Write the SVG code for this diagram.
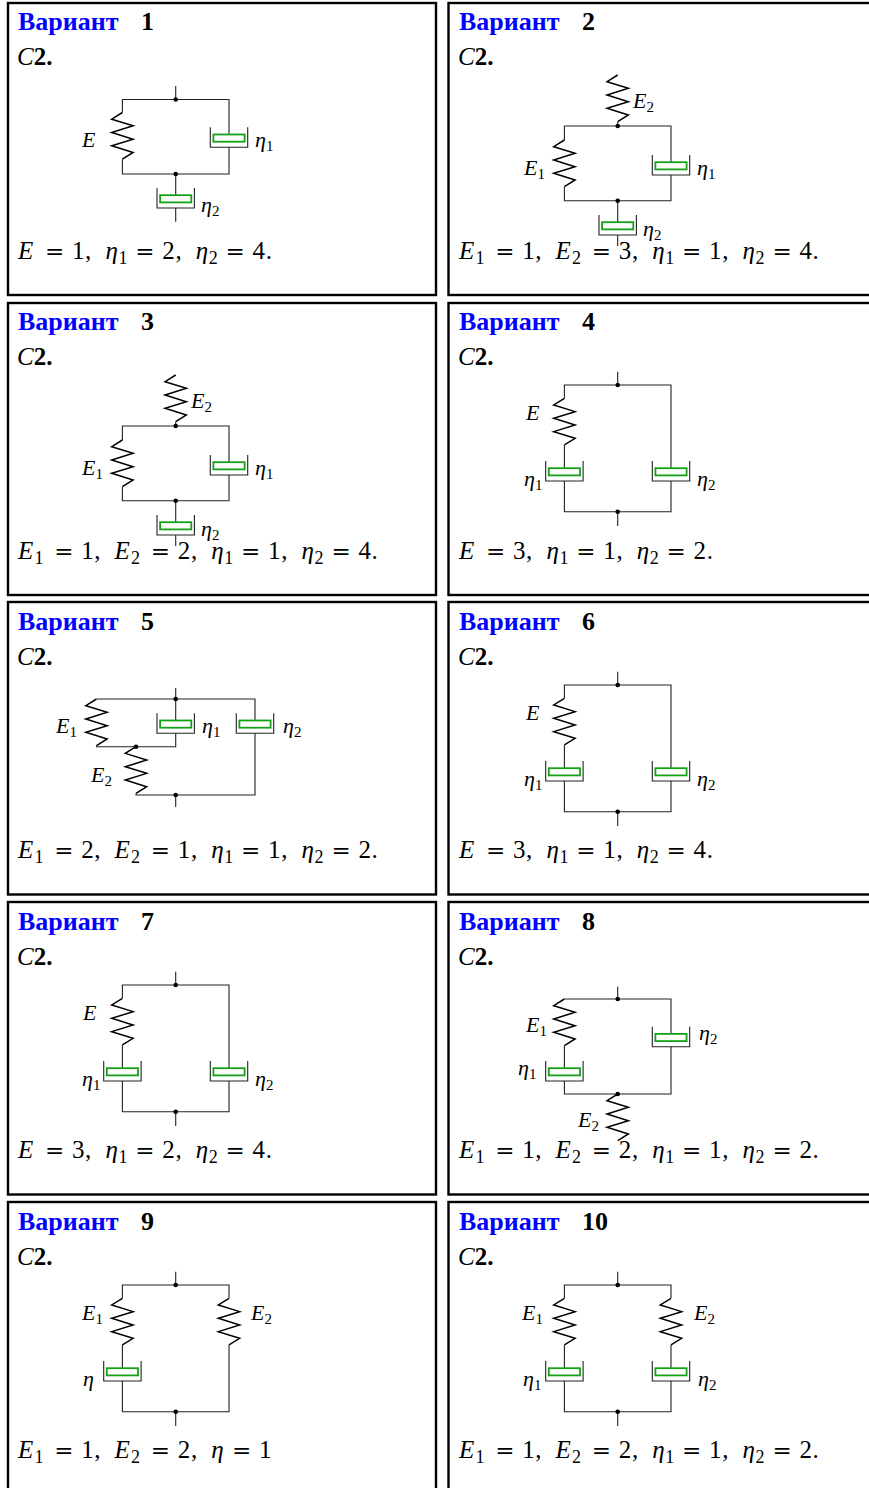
<svg xmlns="http://www.w3.org/2000/svg" width="869" height="1488" viewBox="0 0 869 1488">
<style>
.frame{fill:none;stroke:#000;stroke-width:2.4}
.t{font-family:"Liberation Serif",serif;font-weight:bold;font-size:26px;fill:#000}
.b{fill:#0000ff}
.c{font-family:"Liberation Serif",serif;font-weight:bold;font-size:25px}
.ci{font-style:italic;font-weight:normal}
.f{font-family:"Liberation Serif",serif;font-size:25px}
.i{font-style:italic}
.s{font-size:18px}
.eq{font-family:"DejaVu Serif",serif;font-size:23px}
.l{font-family:"Liberation Serif",serif;font-size:22px;font-style:italic}
.ls{font-size:15px;font-style:normal}
.w{fill:none;stroke:#222;stroke-width:1.1}
.spr{fill:none;stroke:#000;stroke-width:1.5}
.cup{fill:none;stroke:#222;stroke-width:1.1}
.pist{fill:#fff;stroke:#16a016;stroke-width:1.8}
.dot{fill:#000}
</style>
<defs>
<path id="spring" class="spr" d="M0,0 L-10.7,6.67 L10.7,13.33 L-10.7,20 L10.7,26.67 L-10.7,33.33 L10.7,40 L0,46.67"/>
<g id="dp"><path class="cup" d="M-18.7,0 V20 H18.7 V0"/><rect class="pist" x="-15.6" y="7.2" width="31.2" height="7.2"/></g>
</defs>
<rect width="869" height="1488" fill="#fff"/>

<!-- Variant 1 -->
<g id="variant-1">
<rect class="frame" x="8" y="3" width="428" height="292"/>
<text class="t" x="18" y="30"><tspan class="b">Вариант</tspan><tspan x="141">1</tspan></text>
<text class="c" x="17" y="65"><tspan class="ci">C</tspan>2.</text>
<g id="v1-connectors">
<path class="w" d="M175.7,86 V99.5 M122.4,112.5 V99.5 H229 V134.5 M122.4,159.2 V174 H229 V147.3 M175.7,174 V195.2 M175.7,208 V221.7"/>
<circle class="dot" cx="175.7" cy="99.5" r="2.3"/><circle class="dot" cx="175.7" cy="174" r="2.3"/>
</g>
<g id="v1-E"><use href="#spring" x="122.4" y="112.5"/><text class="l" x="82" y="147">E</text></g>
<g id="v1-eta1"><use href="#dp" x="229" y="127.3"/><text class="l" x="255" y="147">η<tspan class="ls" dy="4">1</tspan></text></g>
<g id="v1-eta2"><use href="#dp" x="175.7" y="188"/><text class="l" x="201" y="212">η<tspan class="ls" dy="4">2</tspan></text></g>
<text class="f" y="259"><tspan class="i" x="18">E</tspan><tspan class="eq" x="45.1">=</tspan><tspan x="72.1">1</tspan><tspan x="85.1">,</tspan><tspan class="i" x="105.4">η</tspan><tspan class="s" x="118.4" y="264">1</tspan><tspan class="eq" x="135.3" y="259">=</tspan><tspan x="162.3">2</tspan><tspan x="175.4">,</tspan><tspan class="i" x="195.7">η</tspan><tspan class="s" x="208.7" y="264">2</tspan><tspan class="eq" x="225.6" y="259">=</tspan><tspan x="252.6">4</tspan><tspan x="265.7">.</tspan></text>
</g>

<!-- Variant 2 -->
<g id="variant-2">
<rect class="frame" x="448.5" y="3" width="440" height="292"/>
<text class="t" x="459" y="30"><tspan class="b">Вариант</tspan><tspan x="582">2</tspan></text>
<text class="c" x="458" y="65"><tspan class="ci">C</tspan>2.</text>
<g id="v2-connectors">
<path class="w" d="M617.7,121.7 V126 M564.4,140 V126 H671 V162.2 M564.4,186.7 V200.7 H671 V175 M617.7,200.7 V222.2 M617.7,235 V246"/>
<circle class="dot" cx="617.7" cy="126" r="2.3"/><circle class="dot" cx="617.7" cy="200.7" r="2.3"/>
</g>
<g id="v2-E2"><use href="#spring" x="617.7" y="75"/><text class="l" x="633" y="108">E<tspan class="ls" dy="4">2</tspan></text></g>
<g id="v2-E1"><use href="#spring" x="564.4" y="140"/><text class="l" x="524" y="175">E<tspan class="ls" dy="4">1</tspan></text></g>
<g id="v2-eta1"><use href="#dp" x="671" y="155"/><text class="l" x="697" y="175">η<tspan class="ls" dy="4">1</tspan></text></g>
<g id="v2-eta2"><use href="#dp" x="617.7" y="215"/><text class="l" x="643" y="236">η<tspan class="ls" dy="4">2</tspan></text></g>
<text class="f" y="259"><tspan class="i" x="459">E</tspan><tspan class="s" x="475.5" y="264">1</tspan><tspan class="eq" x="495.2" y="259">=</tspan><tspan x="522.2">1</tspan><tspan x="535.3">,</tspan><tspan class="i" x="555.6">E</tspan><tspan class="s" x="572.1" y="264">2</tspan><tspan class="eq" x="591.8" y="259">=</tspan><tspan x="618.8">3</tspan><tspan x="631.9">,</tspan><tspan class="i" x="652.2">η</tspan><tspan class="s" x="665.2" y="264">1</tspan><tspan class="eq" x="682.1" y="259">=</tspan><tspan x="709.1">1</tspan><tspan x="722.2">,</tspan><tspan class="i" x="742.5">η</tspan><tspan class="s" x="755.5" y="264">2</tspan><tspan class="eq" x="772.4" y="259">=</tspan><tspan x="799.4">4</tspan><tspan x="812.5">.</tspan></text>
</g>

<!-- Variant 3 -->
<g id="variant-3">
<rect class="frame" x="8" y="303" width="428" height="292"/>
<text class="t" x="18" y="330"><tspan class="b">Вариант</tspan><tspan x="141">3</tspan></text>
<text class="c" x="17" y="365"><tspan class="ci">C</tspan>2.</text>
<g id="v3-connectors">
<path class="w" d="M175.7,421.7 V426 M122.4,440 V426 H229 V462.2 M122.4,486.7 V500.7 H229 V475 M175.7,500.7 V522.2 M175.7,535 V546"/>
<circle class="dot" cx="175.7" cy="426" r="2.3"/><circle class="dot" cx="175.7" cy="500.7" r="2.3"/>
</g>
<g id="v3-E2"><use href="#spring" x="175.7" y="375"/><text class="l" x="191" y="408">E<tspan class="ls" dy="4">2</tspan></text></g>
<g id="v3-E1"><use href="#spring" x="122.4" y="440"/><text class="l" x="82" y="475">E<tspan class="ls" dy="4">1</tspan></text></g>
<g id="v3-eta1"><use href="#dp" x="229" y="455"/><text class="l" x="255" y="475">η<tspan class="ls" dy="4">1</tspan></text></g>
<g id="v3-eta2"><use href="#dp" x="175.7" y="515"/><text class="l" x="201" y="536">η<tspan class="ls" dy="4">2</tspan></text></g>
<text class="f" y="558.5"><tspan class="i" x="18">E</tspan><tspan class="s" x="34.5" y="563.5">1</tspan><tspan class="eq" x="54.2" y="558.5">=</tspan><tspan x="81.2">1</tspan><tspan x="94.3">,</tspan><tspan class="i" x="114.6">E</tspan><tspan class="s" x="131.1" y="563.5">2</tspan><tspan class="eq" x="150.8" y="558.5">=</tspan><tspan x="177.8">2</tspan><tspan x="190.9">,</tspan><tspan class="i" x="211.2">η</tspan><tspan class="s" x="224.2" y="563.5">1</tspan><tspan class="eq" x="241.1" y="558.5">=</tspan><tspan x="268.1">1</tspan><tspan x="281.2">,</tspan><tspan class="i" x="301.5">η</tspan><tspan class="s" x="314.5" y="563.5">2</tspan><tspan class="eq" x="331.4" y="558.5">=</tspan><tspan x="358.4">4</tspan><tspan x="371.5">.</tspan></text>
</g>

<!-- Variant 4 -->
<g id="variant-4">
<rect class="frame" x="448.5" y="303" width="440" height="292"/>
<text class="t" x="459" y="330"><tspan class="b">Вариант</tspan><tspan x="582">4</tspan></text>
<text class="c" x="458" y="365"><tspan class="ci">C</tspan>2.</text>
<g id="v4-connectors">
<path class="w" d="M617.7,371.7 V385 M564.4,398.3 V385 H671 V468.2 M564.4,445 V468.2 M564.4,481 V511.7 H671 V481 M617.7,511.7 V526"/>
<circle class="dot" cx="617.7" cy="385" r="2.3"/><circle class="dot" cx="617.7" cy="511.7" r="2.3"/>
</g>
<g id="v4-E"><use href="#spring" x="564.4" y="398.3"/><text class="l" x="526" y="420">E</text></g>
<g id="v4-eta1"><use href="#dp" x="564.4" y="461"/><text class="l" x="524" y="486">η<tspan class="ls" dy="4">1</tspan></text></g>
<g id="v4-eta2"><use href="#dp" x="671" y="461"/><text class="l" x="697" y="486">η<tspan class="ls" dy="4">2</tspan></text></g>
<text class="f" y="558.5"><tspan class="i" x="459">E</tspan><tspan class="eq" x="486.1">=</tspan><tspan x="513.1">3</tspan><tspan x="526.1">,</tspan><tspan class="i" x="546.4">η</tspan><tspan class="s" x="559.4" y="563.5">1</tspan><tspan class="eq" x="576.3" y="558.5">=</tspan><tspan x="603.3">1</tspan><tspan x="616.4">,</tspan><tspan class="i" x="636.7">η</tspan><tspan class="s" x="649.7" y="563.5">2</tspan><tspan class="eq" x="666.6" y="558.5">=</tspan><tspan x="693.6">2</tspan><tspan x="706.7">.</tspan></text>
</g>

<!-- Variant 5 -->
<g id="variant-5">
<rect class="frame" x="8" y="602" width="428" height="292.5"/>
<text class="t" x="18" y="630"><tspan class="b">Вариант</tspan><tspan x="141">5</tspan></text>
<text class="c" x="17" y="665"><tspan class="ci">C</tspan>2.</text>
<g id="v5-connectors">
<path class="w" d="M175.7,688 V699 M96.5,699 H255 V720.5 M175.7,699 V720.5 M96.5,745.7 V746.7 H175.7 V733.3 M136,793.4 V795 H255 V733.3 M175.7,795 V807"/>
<circle class="dot" cx="175.7" cy="699" r="2.3"/><circle class="dot" cx="136" cy="746.7" r="2.3"/><circle class="dot" cx="175.7" cy="795" r="2.3"/>
</g>
<g id="v5-E1"><use href="#spring" x="96.5" y="699"/><text class="l" x="56" y="733">E<tspan class="ls" dy="4">1</tspan></text></g>
<g id="v5-E2"><use href="#spring" x="136" y="746.7"/><text class="l" x="91" y="782">E<tspan class="ls" dy="4">2</tspan></text></g>
<g id="v5-eta1"><use href="#dp" x="175.7" y="713.3"/><text class="l" x="202" y="733">η<tspan class="ls" dy="4">1</tspan></text></g>
<g id="v5-eta2"><use href="#dp" x="255" y="713.3"/><text class="l" x="283" y="733">η<tspan class="ls" dy="4">2</tspan></text></g>
<text class="f" y="858"><tspan class="i" x="18">E</tspan><tspan class="s" x="34.5" y="863">1</tspan><tspan class="eq" x="54.2" y="858">=</tspan><tspan x="81.2">2</tspan><tspan x="94.3">,</tspan><tspan class="i" x="114.6">E</tspan><tspan class="s" x="131.1" y="863">2</tspan><tspan class="eq" x="150.8" y="858">=</tspan><tspan x="177.8">1</tspan><tspan x="190.9">,</tspan><tspan class="i" x="211.2">η</tspan><tspan class="s" x="224.2" y="863">1</tspan><tspan class="eq" x="241.1" y="858">=</tspan><tspan x="268.1">1</tspan><tspan x="281.2">,</tspan><tspan class="i" x="301.5">η</tspan><tspan class="s" x="314.5" y="863">2</tspan><tspan class="eq" x="331.4" y="858">=</tspan><tspan x="358.4">2</tspan><tspan x="371.5">.</tspan></text>
</g>

<!-- Variant 6 -->
<g id="variant-6">
<rect class="frame" x="448.5" y="602" width="440" height="292.5"/>
<text class="t" x="459" y="630"><tspan class="b">Вариант</tspan><tspan x="582">6</tspan></text>
<text class="c" x="458" y="665"><tspan class="ci">C</tspan>2.</text>
<g id="v6-connectors">
<path class="w" d="M617.7,671.7 V685 M564.4,698.3 V685 H671 V768.2 M564.4,745 V768.2 M564.4,781 V811.7 H671 V781 M617.7,811.7 V826"/>
<circle class="dot" cx="617.7" cy="685" r="2.3"/><circle class="dot" cx="617.7" cy="811.7" r="2.3"/>
</g>
<g id="v6-E"><use href="#spring" x="564.4" y="698.3"/><text class="l" x="526" y="720">E</text></g>
<g id="v6-eta1"><use href="#dp" x="564.4" y="761"/><text class="l" x="524" y="786">η<tspan class="ls" dy="4">1</tspan></text></g>
<g id="v6-eta2"><use href="#dp" x="671" y="761"/><text class="l" x="697" y="786">η<tspan class="ls" dy="4">2</tspan></text></g>
<text class="f" y="858"><tspan class="i" x="459">E</tspan><tspan class="eq" x="486.1">=</tspan><tspan x="513.1">3</tspan><tspan x="526.1">,</tspan><tspan class="i" x="546.4">η</tspan><tspan class="s" x="559.4" y="863">1</tspan><tspan class="eq" x="576.3" y="858">=</tspan><tspan x="603.3">1</tspan><tspan x="616.4">,</tspan><tspan class="i" x="636.7">η</tspan><tspan class="s" x="649.7" y="863">2</tspan><tspan class="eq" x="666.6" y="858">=</tspan><tspan x="693.6">4</tspan><tspan x="706.7">.</tspan></text>
</g>

<!-- Variant 7 -->
<g id="variant-7">
<rect class="frame" x="8" y="902" width="428" height="292.5"/>
<text class="t" x="18" y="930"><tspan class="b">Вариант</tspan><tspan x="141">7</tspan></text>
<text class="c" x="17" y="965"><tspan class="ci">C</tspan>2.</text>
<g id="v7-connectors">
<path class="w" d="M175.7,971.7 V985 M122.4,998.3 V985 H229 V1068.2 M122.4,1045 V1068.2 M122.4,1081 V1111.7 H229 V1081 M175.7,1111.7 V1126"/>
<circle class="dot" cx="175.7" cy="985" r="2.3"/><circle class="dot" cx="175.7" cy="1111.7" r="2.3"/>
</g>
<g id="v7-E"><use href="#spring" x="122.4" y="998.3"/><text class="l" x="83" y="1020">E</text></g>
<g id="v7-eta1"><use href="#dp" x="122.4" y="1061"/><text class="l" x="82" y="1086">η<tspan class="ls" dy="4">1</tspan></text></g>
<g id="v7-eta2"><use href="#dp" x="229" y="1061"/><text class="l" x="255" y="1086">η<tspan class="ls" dy="4">2</tspan></text></g>
<text class="f" y="1158"><tspan class="i" x="18">E</tspan><tspan class="eq" x="45.1">=</tspan><tspan x="72.1">3</tspan><tspan x="85.1">,</tspan><tspan class="i" x="105.4">η</tspan><tspan class="s" x="118.4" y="1163">1</tspan><tspan class="eq" x="135.3" y="1158">=</tspan><tspan x="162.3">2</tspan><tspan x="175.4">,</tspan><tspan class="i" x="195.7">η</tspan><tspan class="s" x="208.7" y="1163">2</tspan><tspan class="eq" x="225.6" y="1158">=</tspan><tspan x="252.6">4</tspan><tspan x="265.7">.</tspan></text>
</g>

<!-- Variant 8 -->
<g id="variant-8">
<rect class="frame" x="448.5" y="902" width="440" height="292.5"/>
<text class="t" x="459" y="930"><tspan class="b">Вариант</tspan><tspan x="582">8</tspan></text>
<text class="c" x="458" y="965"><tspan class="ci">C</tspan>2.</text>
<g id="v8-connectors">
<path class="w" d="M617.7,986.7 V999 M564.4,999 H671 V1033.9 M564.4,1045.7 V1068.2 M564.4,1081 V1094 H671 V1046.7"/>
<circle class="dot" cx="617.7" cy="999" r="2.3"/><circle class="dot" cx="617.7" cy="1094" r="2.3"/>
</g>
<g id="v8-E1"><use href="#spring" x="564.4" y="999"/><text class="l" x="526" y="1032">E<tspan class="ls" dy="4">1</tspan></text></g>
<g id="v8-eta1"><use href="#dp" x="564.4" y="1061"/><text class="l" x="518" y="1075">η<tspan class="ls" dy="4">1</tspan></text></g>
<g id="v8-eta2"><use href="#dp" x="671" y="1026.7"/><text class="l" x="699" y="1040">η<tspan class="ls" dy="4">2</tspan></text></g>
<g id="v8-E2"><use href="#spring" x="617.7" y="1094"/><text class="l" x="578" y="1127">E<tspan class="ls" dy="4">2</tspan></text></g>
<text class="f" y="1158"><tspan class="i" x="459">E</tspan><tspan class="s" x="475.5" y="1163">1</tspan><tspan class="eq" x="495.2" y="1158">=</tspan><tspan x="522.2">1</tspan><tspan x="535.3">,</tspan><tspan class="i" x="555.6">E</tspan><tspan class="s" x="572.1" y="1163">2</tspan><tspan class="eq" x="591.8" y="1158">=</tspan><tspan x="618.8">2</tspan><tspan x="631.9">,</tspan><tspan class="i" x="652.2">η</tspan><tspan class="s" x="665.2" y="1163">1</tspan><tspan class="eq" x="682.1" y="1158">=</tspan><tspan x="709.1">1</tspan><tspan x="722.2">,</tspan><tspan class="i" x="742.5">η</tspan><tspan class="s" x="755.5" y="1163">2</tspan><tspan class="eq" x="772.4" y="1158">=</tspan><tspan x="799.4">2</tspan><tspan x="812.5">.</tspan></text>
</g>

<!-- Variant 9 -->
<g id="variant-9">
<rect class="frame" x="8" y="1202" width="428" height="300"/>
<text class="t" x="18" y="1230"><tspan class="b">Вариант</tspan><tspan x="141">9</tspan></text>
<text class="c" x="17" y="1265"><tspan class="ci">C</tspan>2.</text>
<g id="v9-connectors">
<path class="w" d="M175.7,1271.7 V1285 M122.4,1298.3 V1285 H229 V1298.3 M122.4,1345 V1368.2 M122.4,1381 V1411.7 H229 V1345 M175.7,1411.7 V1426"/>
<circle class="dot" cx="175.7" cy="1285" r="2.3"/><circle class="dot" cx="175.7" cy="1411.7" r="2.3"/>
</g>
<g id="v9-E1"><use href="#spring" x="122.4" y="1298.3"/><text class="l" x="82" y="1320">E<tspan class="ls" dy="4">1</tspan></text></g>
<g id="v9-E2"><use href="#spring" x="229" y="1298.3"/><text class="l" x="251" y="1320">E<tspan class="ls" dy="4">2</tspan></text></g>
<g id="v9-eta"><use href="#dp" x="122.4" y="1361"/><text class="l" x="83" y="1386">η</text></g>
<text class="f" y="1458"><tspan class="i" x="18">E</tspan><tspan class="s" x="34.5" y="1463">1</tspan><tspan class="eq" x="54.2" y="1458">=</tspan><tspan x="81.2">1</tspan><tspan x="94.3">,</tspan><tspan class="i" x="114.6">E</tspan><tspan class="s" x="131.1" y="1463">2</tspan><tspan class="eq" x="150.8" y="1458">=</tspan><tspan x="177.8">2</tspan><tspan x="190.9">,</tspan><tspan class="i" x="211.2">η</tspan><tspan class="eq" x="232">=</tspan><tspan x="259">1</tspan></text>
</g>

<!-- Variant 10 -->
<g id="variant-10">
<rect class="frame" x="448.5" y="1202" width="440" height="300"/>
<text class="t" x="459" y="1230"><tspan class="b">Вариант</tspan><tspan x="582">10</tspan></text>
<text class="c" x="458" y="1265"><tspan class="ci">C</tspan>2.</text>
<g id="v10-connectors">
<path class="w" d="M617.7,1271.7 V1285 M564.4,1298.3 V1285 H671 V1298.3 M564.4,1345 V1368.2 M671,1345 V1368.2 M564.4,1381 V1411.7 H671 V1381 M617.7,1411.7 V1426"/>
<circle class="dot" cx="617.7" cy="1285" r="2.3"/><circle class="dot" cx="617.7" cy="1411.7" r="2.3"/>
</g>
<g id="v10-E1"><use href="#spring" x="564.4" y="1298.3"/><text class="l" x="522" y="1320">E<tspan class="ls" dy="4">1</tspan></text></g>
<g id="v10-E2"><use href="#spring" x="671" y="1298.3"/><text class="l" x="694" y="1320">E<tspan class="ls" dy="4">2</tspan></text></g>
<g id="v10-eta1"><use href="#dp" x="564.4" y="1361"/><text class="l" x="523" y="1386">η<tspan class="ls" dy="4">1</tspan></text></g>
<g id="v10-eta2"><use href="#dp" x="671" y="1361"/><text class="l" x="698" y="1386">η<tspan class="ls" dy="4">2</tspan></text></g>
<text class="f" y="1458"><tspan class="i" x="459">E</tspan><tspan class="s" x="475.5" y="1463">1</tspan><tspan class="eq" x="495.2" y="1458">=</tspan><tspan x="522.2">1</tspan><tspan x="535.3">,</tspan><tspan class="i" x="555.6">E</tspan><tspan class="s" x="572.1" y="1463">2</tspan><tspan class="eq" x="591.8" y="1458">=</tspan><tspan x="618.8">2</tspan><tspan x="631.9">,</tspan><tspan class="i" x="652.2">η</tspan><tspan class="s" x="665.2" y="1463">1</tspan><tspan class="eq" x="682.1" y="1458">=</tspan><tspan x="709.1">1</tspan><tspan x="722.2">,</tspan><tspan class="i" x="742.5">η</tspan><tspan class="s" x="755.5" y="1463">2</tspan><tspan class="eq" x="772.4" y="1458">=</tspan><tspan x="799.4">2</tspan><tspan x="812.5">.</tspan></text>
</g>
</svg>
